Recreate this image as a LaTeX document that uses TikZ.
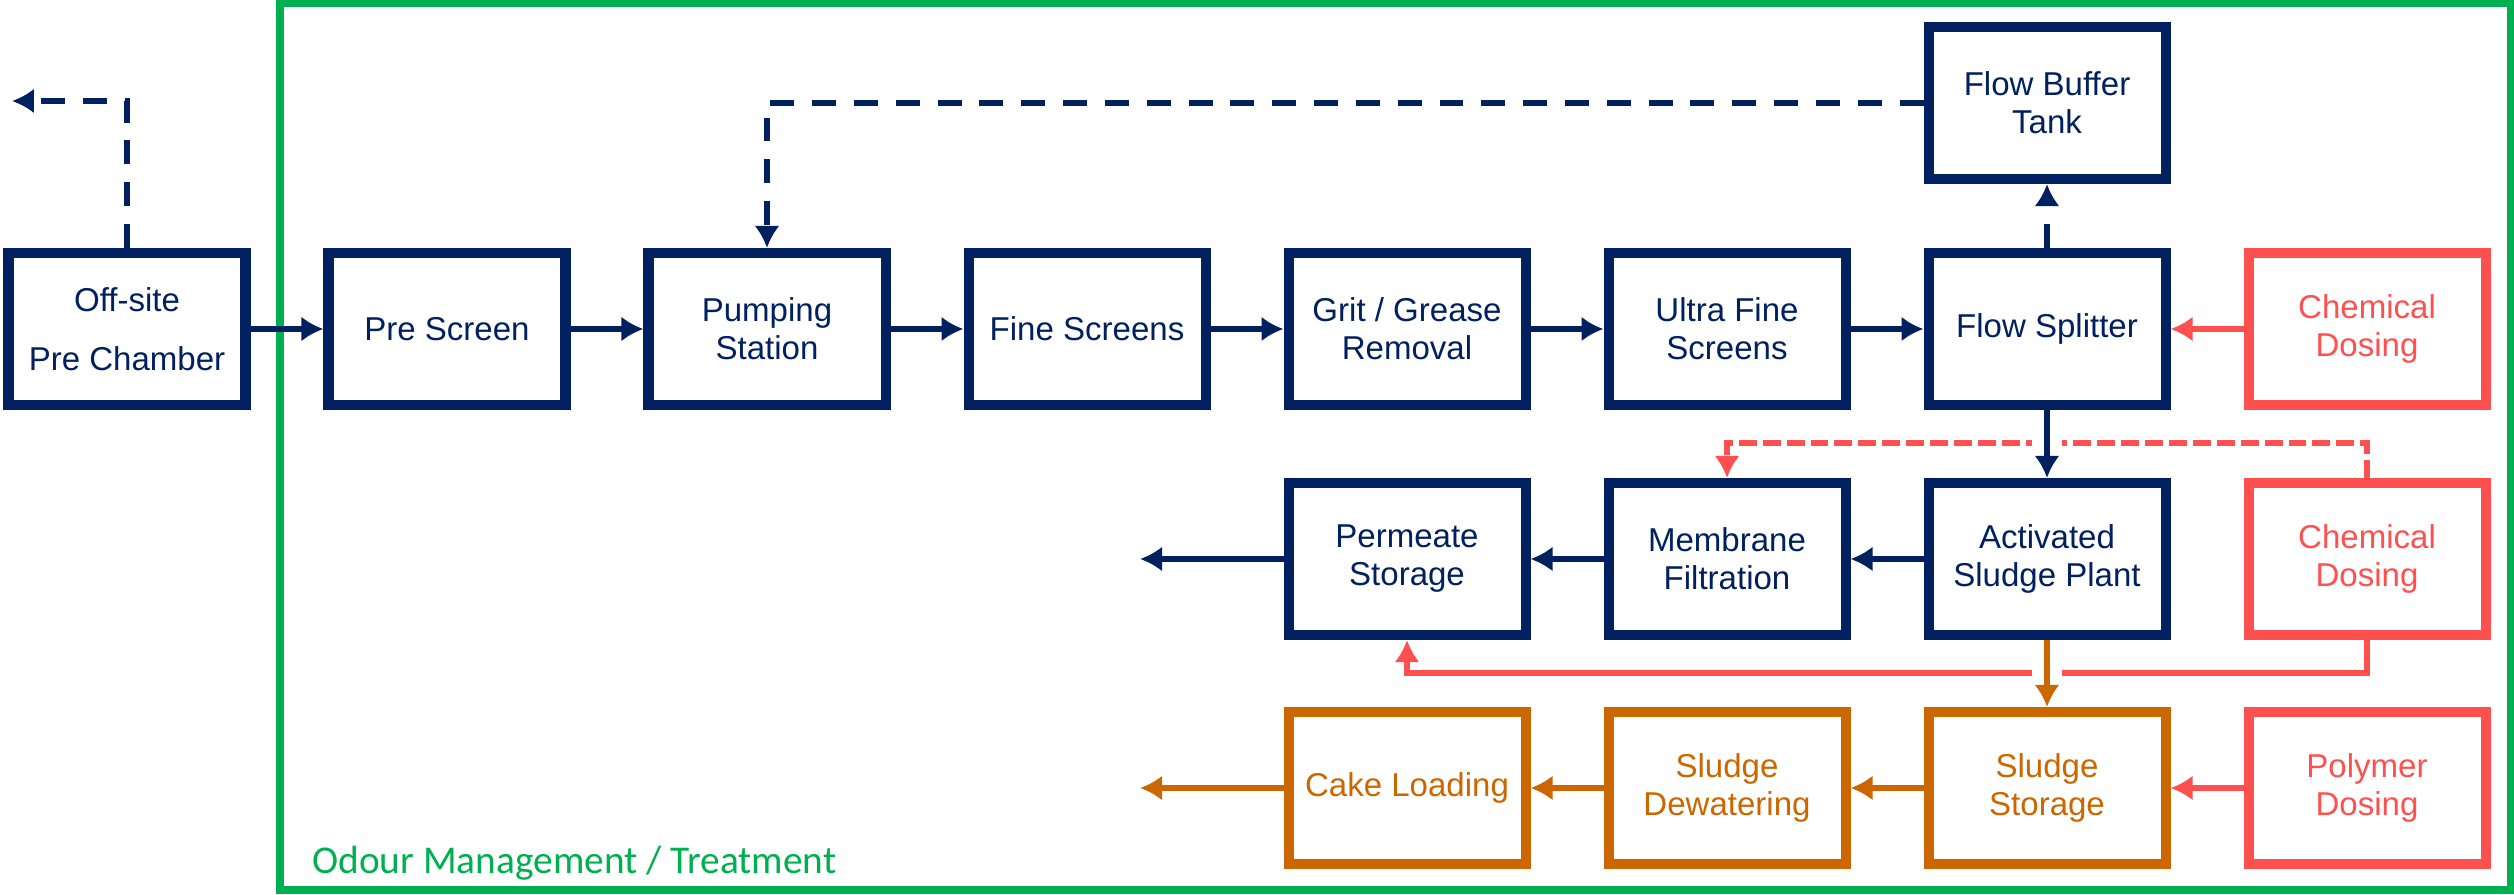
\documentclass[tikz,border=0pt]{standalone}
\usepackage{fontspec}
\setmainfont{Liberation Sans}
\newfontfamily\zonefont{Carlito}
\usetikzlibrary{arrows.meta}

\definecolor{plantnavy}{RGB}{0,32,96}
\definecolor{dosered}{RGB}{255,80,80}
\definecolor{sludgeorange}{RGB}{204,102,0}
\definecolor{odourgreen}{RGB}{0,176,80}

\tikzset{
  unit_box/.style={draw, line width=2.85pt, minimum width=2.37cm, minimum height=1.52cm,
    align=center, inner sep=0pt, font=\fontsize{9.4}{10.8}\selectfont},
  unit_navy/.style={unit_box, draw=plantnavy, text=plantnavy},
  unit_red/.style={unit_box, draw=dosered, text=dosered},
  unit_orange/.style={unit_box, draw=sludgeorange, text=sludgeorange},
  flow/.style={line width=1.7pt, -{Latex[length=2.2mm,width=2.5mm]}},
  flow_navy/.style={flow, draw=plantnavy},
  flow_red/.style={flow, draw=dosered},
  flow_orange/.style={flow, draw=sludgeorange},
  flow_dashed/.style={flow_navy, dash pattern=on 6.8pt off 5.1pt},
  dose_dashed/.style={flow_red, dash pattern=on 5.1pt off 1.7pt},
  gap_line/.style={white, line width=0.3cm},
}

\begin{document}
\begin{tikzpicture}
\useasboundingbox (0,0) rectangle (25.14,-8.95);
% odour management zone
\draw [odourgreen, line width=2pt] (2.80,-0.03) rectangle (25.10,-8.90);
\node[anchor=base west, text=odourgreen, font=\zonefont\fontsize{11.2}{13}\selectfont] (label_odour) at (3.00,-8.73) {Odour Management / Treatment};
% inlet works
\node[unit_navy] (offsite) at (1.27,-3.29) {Off-site\\[6pt]Pre Chamber};
\node[unit_navy] (prescreen) at (4.47,-3.29) {Pre Screen};
\node[unit_navy] (pump) at (7.67,-3.29) {Pumping\\Station};
\node[unit_navy] (fine) at (10.87,-3.29) {Fine Screens};
\node[unit_navy] (grit) at (14.07,-3.29) {Grit / Grease\\Removal};
\node[unit_navy] (ultra) at (17.27,-3.29) {Ultra Fine\\Screens};
\node[unit_navy] (split) at (20.47,-3.29) {Flow Splitter};
\node[unit_red] (chem_top) at (23.67,-3.29) {Chemical\\Dosing};
\node[unit_navy] (buffer) at (20.47,-1.03) {Flow Buffer\\Tank};
% treatment
\node[unit_navy] (perm) at (14.07,-5.59) {Permeate\\Storage};
\node[unit_navy] (memb) at (17.27,-5.59) {Membrane\\Filtration};
\node[unit_navy] (asp) at (20.47,-5.59) {Activated\\Sludge Plant};
\node[unit_red] (chem_mid) at (23.67,-5.59) {Chemical\\Dosing};
% sludge line
\node[unit_orange] (cake) at (14.07,-7.88) {Cake Loading};
\node[unit_orange] (dewater) at (17.27,-7.88) {Sludge\\Dewatering};
\node[unit_orange] (sstore) at (20.47,-7.88) {Sludge\\Storage};
\node[unit_red] (polymer) at (23.67,-7.88) {Polymer\\Dosing};
\coordinate (offsite_out) at (0.12,-1.01);
\coordinate (perm_out) at (11.40,-5.59);
\coordinate (cake_out) at (11.40,-7.88);
% main flow
\draw [flow_navy] (offsite) -- (prescreen);
\draw [flow_navy] (prescreen) -- (pump);
\draw [flow_navy] (pump) -- (fine);
\draw [flow_navy] (fine) -- (grit);
\draw [flow_navy] (grit) -- (ultra);
\draw [flow_navy] (ultra) -- (split);
\draw [flow_red] (chem_top) -- (split);
% overflow and return
\draw [flow_dashed] (offsite.north) |- (offsite_out);
\draw [flow_dashed] (split.north) -- (buffer.south);
\draw [flow_dashed] (buffer.west) -| (pump.north);
% dosing round the membranes
\draw [dose_dashed] (chem_mid.north) -- ++(0,0.35) -| (memb.north);
\draw [flow_red] (chem_mid.south) -- ++(0,-0.33) -| (perm.south);
\draw [gap_line] (split.south) -- (asp.north);
\draw [gap_line] (asp.south) -- (sstore.north);
\draw [flow_navy] (split) -- (asp);
\draw [flow_navy] (asp) -- (memb);
\draw [flow_navy] (memb) -- (perm);
\draw [flow_navy] (perm) -- (perm_out);
% sludge
\draw [flow_orange] (asp) -- (sstore);
\draw [flow_red] (polymer) -- (sstore);
\draw [flow_orange] (sstore) -- (dewater);
\draw [flow_orange] (dewater) -- (cake);
\draw [flow_orange] (cake) -- (cake_out);
\end{tikzpicture}
\end{document}
